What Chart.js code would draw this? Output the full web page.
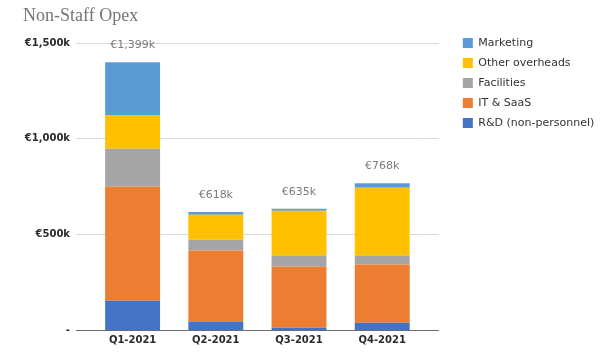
<!DOCTYPE html>
<html>
<head>
<meta charset="utf-8">
<script src="https://cdn.jsdelivr.net/npm/chart.js@4"></script>
<style>
  body { margin: 0; background: #fff; }
  #wrap { width: 603px; height: 358px; position: relative; }
</style>
</head>
<body>
<div id="wrap"><canvas id="opexChart"></canvas></div>
<script>
const quarters = ['Q1-2021', 'Q2-2021', 'Q3-2021', 'Q4-2021'];

// values in €k, stacked bottom to top
const rdNonPersonnel = [155, 47, 15, 40];
const itSaas = [595, 370, 318, 304];
const facilities = [198, 57, 58, 47];
const otherOverheads = [177, 130, 234, 354];
const marketing = [274, 14, 10, 23];

const totals = [1399, 618, 635, 768];
const yTicks = [0, 500, 1000, 1500];

const euroK = v => v === 0 ? '-' : '€' + v.toLocaleString('en-US') + 'k';
const gridColor = ctx => (ctx.tick && ctx.tick.value === 0) ? '#6b6b6b' : '#d9d9d9';
const axisFont = { family: '"DejaVu Sans"', size: 10, weight: 'bold' };

// puts the quarter totals above each stack
const totalLabels = {
    id: 'totalLabels',
    afterDatasetsDraw(chart) {
        const { ctx, scales: { x, y } } = chart;
        ctx.save();
        ctx.font = '11px "DejaVu Sans"';
        ctx.fillStyle = '#7a7a7a';
        ctx.textAlign = 'center';
        ctx.textBaseline = 'middle';
        totals.forEach((t, i) => {
            ctx.fillText(euroK(t), x.getPixelForValue(i), y.getPixelForValue(t) - 17);
        });
        ctx.restore();
    }
};

// nudge the legend away from the plot, level with the top gridline,
// and let it use the rest of the width so the labels aren't clipped
const legendPlacement = {
    id: 'legendPlacement',
    afterLayout(chart) {
        const lg = chart.legend;
        lg.left = chart.scales.y2.right + 15;
        lg.right = chart.width;
        lg.width = lg.right - lg.left;
        lg.top = chart.chartArea.top - 14.5;
    }
};

const chartElement = document.getElementById('opexChart');
const opexChart = new Chart(chartElement, {
    type: 'bar',
    data: {
        labels: quarters,
        datasets: [
            { label: 'R&D (non-personnel)', data: rdNonPersonnel, backgroundColor: '#4472C4' },
            { label: 'IT & SaaS', data: itSaas, backgroundColor: '#ED7D31' },
            { label: 'Facilities', data: facilities, backgroundColor: '#A5A5A5' },
            { label: 'Other overheads', data: otherOverheads, backgroundColor: '#FFC000' },
            { label: 'Marketing', data: marketing, backgroundColor: '#5B9BD5' }
        ]
    },
    options: {
        responsive: true,
        maintainAspectRatio: false,
        animation: false,
        datasets: {
            bar: { barPercentage: 0.66, categoryPercentage: 1, borderWidth: 0 }
        },
        layout: { padding: { top: 0, left: 23, right: 81, bottom: 7.5 } },
        plugins: {
            title: {
                display: true,
                text: 'Non-Staff Opex',
                align: 'start',
                color: '#757575',
                font: { family: '"Liberation Serif", serif', size: 18, weight: 'normal' },
                padding: { top: 5, bottom: 16.4 }
            },
            legend: {
                position: 'right',
                align: 'start',
                reverse: true,
                labels: {
                    boxWidth: 10,
                    boxHeight: 10,
                    padding: 9,
                    color: '#333',
                    font: { family: '"DejaVu Sans"', size: 11 }
                }
            },
            tooltip: { enabled: false }
        },
        scales: {
            x: {
                stacked: true,
                grid: { display: false, drawTicks: false },
                border: { display: false },
                ticks: {
                    color: '#2b2b2b',
                    padding: 4,
                    font: axisFont
                }
            },
            y: {
                stacked: true,
                min: 0,
                max: 1500,
                afterFit(scale) { scale.width = 68; },
                afterBuildTicks(scale) { scale.ticks = yTicks.map(v => ({ value: v })); },
                border: { display: false },
                grid: { color: gridColor, tickLength: 15, drawTicks: true },
                ticks: {
                    color: '#2b2b2b',
                    padding: 6,
                    font: axisFont,
                    callback: v => euroK(v)
                }
            },
            y2: {
                position: 'right',
                min: 0,
                max: 1500,
                afterBuildTicks(scale) { scale.ticks = yTicks.map(v => ({ value: v })); },
                border: { display: false },
                grid: { color: gridColor, tickLength: 15, drawTicks: true, drawOnChartArea: false },
                ticks: { display: false }
            }
        }
    },
    plugins: [totalLabels, legendPlacement]
});
</script>
</body>
</html>
